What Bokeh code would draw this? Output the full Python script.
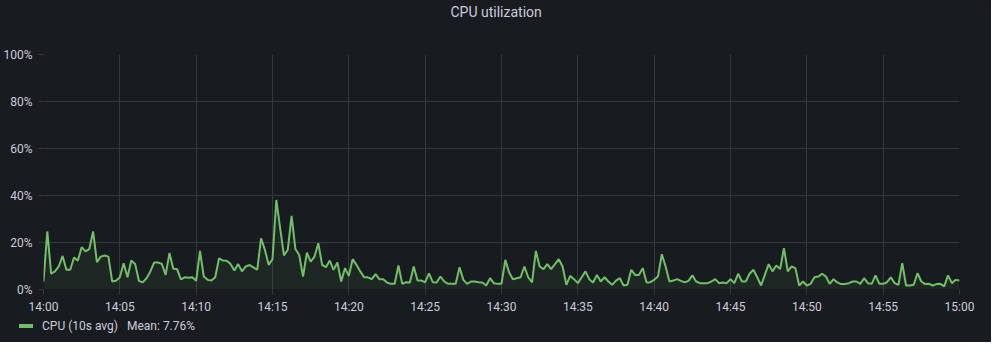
from bokeh.plotting import figure
from bokeh.layouts import column
from bokeh.models import FixedTicker, Range1d, Title, Div
from bokeh.embed import file_html
from bokeh.resources import INLINE

# CPU utilisation (%), one sample every 15 s from 14:00 to 15:00
cpu = [
    3.4, 24.7, 6.7, 7.7, 9.8, 14.3, 8.4, 8.4, 13.6, 12.3,
    18.0, 16.2, 17.2, 24.7, 11.6, 14.0, 14.5, 14.0, 3.4, 3.7,
    5.2, 11.2, 5.2, 12.3, 10.9, 3.7, 3.0, 4.8, 7.7, 11.5,
    11.5, 10.9, 6.2, 15.5, 8.8, 8.7, 4.3, 5.2, 5.0, 5.2,
    3.7, 16.4, 5.5, 4.1, 3.8, 5.2, 13.3, 12.3, 12.2, 10.9,
    8.1, 10.8, 7.7, 9.8, 10.4, 9.4, 8.4, 21.8, 16.9, 10.5,
    12.9, 38.1, 26.1, 14.5, 16.9, 31.3, 17.2, 14.7, 5.5, 15.7,
    11.9, 14.0, 19.7, 10.5, 9.5, 12.3, 8.4, 11.5, 3.4, 9.1,
    5.8, 12.9, 10.5, 7.7, 5.2, 5.2, 4.4, 6.5, 4.4, 4.4,
    3.0, 2.4, 2.4, 10.2, 2.4, 3.1, 3.0, 9.8, 3.8, 3.8,
    3.1, 6.9, 3.1, 3.0, 5.5, 3.4, 2.4, 2.4, 2.4, 9.5,
    4.1, 2.4, 3.4, 3.4, 3.1, 3.0, 1.7, 4.8, 2.7, 2.4,
    2.4, 12.6, 7.2, 4.4, 4.8, 5.2, 9.8, 5.2, 3.0, 16.4,
    9.8, 8.7, 10.8, 8.7, 10.8, 12.9, 9.8, 2.0, 5.8, 4.4,
    2.7, 5.2, 7.7, 4.4, 3.0, 6.2, 3.4, 5.2, 3.4, 2.0,
    3.8, 4.8, 1.7, 2.0, 8.4, 6.2, 6.2, 9.1, 3.0, 3.1,
    4.1, 5.5, 15.0, 9.8, 3.4, 3.8, 4.4, 3.7, 3.0, 3.7,
    6.0, 3.4, 2.7, 2.7, 2.7, 3.4, 4.4, 2.7, 3.0, 2.7,
    4.4, 2.7, 6.7, 3.4, 3.4, 6.7, 8.4, 5.2, 1.7, 6.2,
    10.8, 7.7, 10.2, 8.7, 17.6, 7.7, 9.8, 9.1, 1.7, 3.4,
    1.7, 2.4, 5.2, 5.5, 6.7, 5.5, 2.4, 4.4, 3.0, 2.3,
    2.3, 2.7, 3.4, 3.4, 2.4, 4.8, 2.7, 2.4, 6.0, 2.4,
    2.4, 3.1, 5.2, 2.7, 2.0, 11.2, 1.7, 1.7, 2.0, 6.9,
    3.4, 2.3, 2.4, 1.7, 2.3, 2.4, 1.3, 6.0, 2.7, 4.1,
    3.8,
]
sample_seconds = 15
minutes = [i * sample_seconds / 60 for i in range(len(cpu))]

x_ticks = [0, 5, 10, 15, 20, 25, 30, 35, 40, 45, 50, 55, 60]
x_tick_labels = ["14:00", "14:05", "14:10", "14:15", "14:20", "14:25", "14:30",
                 "14:35", "14:40", "14:45", "14:50", "14:55", "15:00"]
y_ticks = [0, 20, 40, 60, 80, 100]
y_tick_labels = ["0%", "20%", "40%", "60%", "80%", "100%"]

chart_title = "CPU utilization"
series_name = "CPU (10s avg)"
mean_label = "Mean: 7.76%"

BG = "#181b1f"
TXT = "#ccccdc"
GRID = "#35383d"
GREEN = "#73bf69"
FONT = "Roboto"

W = 991
MAIN_H = 316
LEG_H = 26

p = figure(width=W, height=MAIN_H, output_backend="svg", toolbar_location=None,
           x_range=Range1d(0, 60), y_range=Range1d(0, 100),
           min_border_left=42, min_border_right=32, min_border_top=53, min_border_bottom=26,
           background_fill_color=BG, border_fill_color=BG, outline_line_color=None)

# spacer (closest to the frame) then the real title above it
p.add_layout(Title(text=" ", text_font_size="2px", standoff=30, text_color=BG), "above")
p.add_layout(Title(text=chart_title, align="left", offset=407, standoff=2,
                   text_color=TXT, text_font=FONT, text_font_size="14px",
                   text_font_style="normal"), "above")

p.varea(x=minutes, y1=[0] * len(cpu), y2=cpu, fill_color=GREEN, fill_alpha=0.08)
p.line(x=minutes, y=cpu, line_color=GREEN, line_width=2)

# axes
p.xaxis.ticker = FixedTicker(ticks=x_ticks)
p.xaxis.major_label_overrides = {t: l for t, l in zip(x_ticks, x_tick_labels)}
p.yaxis.ticker = FixedTicker(ticks=y_ticks)
p.yaxis.major_label_overrides = {t: l for t, l in zip(y_ticks, y_tick_labels)}
for ax in (p.xaxis, p.yaxis):
    ax.axis_line_color = None
    ax.major_tick_line_color = GRID
    ax.major_tick_in = 0
    ax.major_tick_out = 5
    ax.minor_tick_line_color = None
    ax.major_label_text_color = TXT
    ax.major_label_text_font = FONT
    ax.major_label_text_font_size = "12px"
p.xaxis.major_label_standoff = 5
p.yaxis.major_label_standoff = 6

p.xgrid.ticker = FixedTicker(ticks=x_ticks)
p.ygrid.ticker = FixedTicker(ticks=y_ticks)
p.grid.grid_line_color = GRID
p.grid.grid_line_width = 1

legend_html = (
    f'<div style="display:flex;align-items:center;height:14px;margin-top:3px;padding-left:19px;'
    f'font-family:{FONT};font-size:12px;line-height:14px;color:{TXT};white-space:nowrap">'
    f'<span style="display:inline-block;width:14px;height:4px;background:{GREEN};margin-right:9px"></span>'
    f'<span>{series_name}</span><span style="margin-left:9px">{mean_label}</span></div>'
)
legend_div = Div(text=legend_html, width=W, height=LEG_H, margin=0,
                 styles={"background-color": BG})

layout = column(p, legend_div, spacing=0, margin=0, styles={"background-color": BG})
open("out.html", "w").write(file_html(layout, INLINE))
